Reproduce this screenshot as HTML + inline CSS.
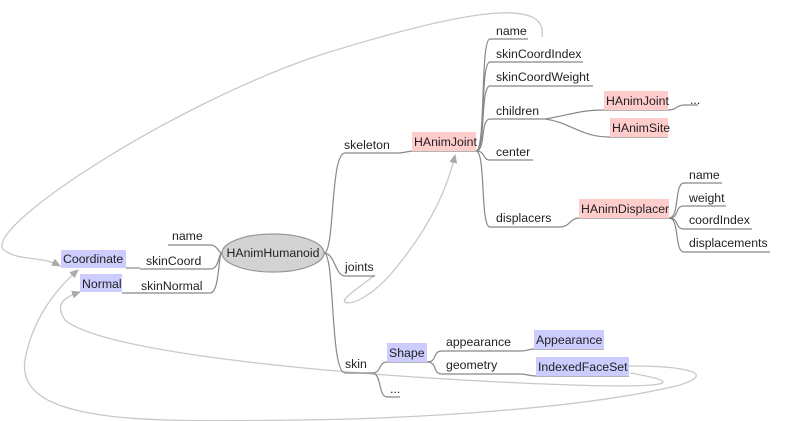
<!DOCTYPE html>
<html><head><meta charset="utf-8"><style>
html,body{margin:0;padding:0;background:#fff;}
svg{display:block;}
text{font-family:"Liberation Sans",sans-serif;font-size:12.3px;fill:#222;}
</style></head><body>
<svg width="790" height="421" viewBox="0 0 790 421" xmlns="http://www.w3.org/2000/svg">
<defs><marker id="a" markerWidth="10" markerHeight="10" refX="8" refY="4" orient="auto" markerUnits="userSpaceOnUse"><path d="M0,0 L9,4 L0,8 z" fill="#aaa"/></marker></defs>
<g fill="none" stroke="#c8c8c8" stroke-width="1.3">
<path d="M542,37 C548,0 480,5 320,55 C170,105 -20,230 4,250 C20,262 40,255 60,266" marker-end="url(#a)"/>
<path d="M375,275 C362,285 340,300 345,302 C352,306 372,295 390,275 C420,240 445,200 455,155" marker-end="url(#a)"/>
<path d="M630,373 C700,385 660,390 500,382 C300,372 100,350 65,320 C55,305 62,298 80,292" marker-end="url(#a)"/>
<path d="M629,366 C680,366 720,372 680,385 C600,405 450,418 300,420 C150,422 15,425 25,360 C32,320 55,290 78,270" marker-end="url(#a)"/>
</g>
<g fill="none" stroke="#888" stroke-width="1.2">
<path d="M168,245 L210,245 C218,245 218,253 222,253"/>
<path d="M140,269 L210,269 C220,269 218,253 222,253"/>
<path d="M126,268 L140,268"/>
<path d="M122,293 L210,293 C220,293 218,253 222,253"/>
<path d="M324,253 C335,253 330,153 345,153 L400,153 L412,151"/>
<path d="M324,253 C335,253 335,276 345,276 L375,276"/>
<path d="M324,253 C335,253 330,373 345,373 L372,373 C382,373 378,362 387,362 L427,362"/>
<path d="M372,373 C382,373 378,397 387,397 L400,397"/>
<path d="M427,362 C438,362 432,351 442,351 L520,351 C528,351 528,349 534,349 L604,349"/>
<path d="M427,362 C438,362 432,374 442,374 L520,374 C528,374 528,376 536,376 L629,376"/>
<path d="M412,151 L476,151"/>
<path d="M476,151 C486,151 480,39 490,39 L528,39"/>
<path d="M476,151 C486,151 480,62 490,62 L583,62"/>
<path d="M476,151 C486,151 480,86 490,86 L593,86"/>
<path d="M476,151 C486,151 480,119 490,119 L545,119"/>
<path d="M476,151 C486,151 482,160 490,160 L533,160"/>
<path d="M476,151 C486,151 480,227 490,227 L560,227 C570,227 570,218 579,218 L669,218"/>
<path d="M545,119 C570,115 580,110 604,110 L668,110 C678,110 675,105 685,105 L698,105"/>
<path d="M545,119 C570,122 580,137 610,137 L668,137"/>
<path d="M669,218 C680,218 674,183 684,183 L722,183"/>
<path d="M669,218 C680,218 674,206 684,206 L726,206"/>
<path d="M669,218 C680,218 674,229 684,229 L752,229"/>
<path d="M669,218 C680,218 674,252 684,252 L770,252"/>
</g>
<ellipse cx="273" cy="253" rx="51" ry="19" fill="#d3d3d3" stroke="#999" stroke-width="1.2"/>
<text x="273" y="257" text-anchor="middle">HAnimHumanoid</text>
<g fill="#ccccff">
<rect x="61" y="250" width="65" height="18"/>
<rect x="80" y="274" width="42" height="18"/>
<rect x="387" y="343" width="40" height="19"/>
<rect x="534" y="330" width="70" height="19"/>
<rect x="536" y="357" width="93" height="19"/>
</g>
<g fill="#ffcccc">
<rect x="412" y="132" width="64" height="19"/>
<rect x="604" y="91" width="64" height="19"/>
<rect x="610" y="118" width="58" height="19"/>
<rect x="579" y="199" width="90" height="19"/>
</g>
<text x="172" y="240">name</text>
<text x="146" y="265">skinCoord</text>
<text x="141" y="290">skinNormal</text>
<text x="63" y="263">Coordinate</text>
<text x="82" y="288">Normal</text>
<text x="344" y="149">skeleton</text>
<text x="414" y="146">HAnimJoint</text>
<text x="345" y="271">joints</text>
<text x="345" y="368">skin</text>
<text x="389" y="357">Shape</text>
<text x="446" y="346">appearance</text>
<text x="536" y="344">Appearance</text>
<text x="446" y="369">geometry</text>
<text x="538" y="371">IndexedFaceSet</text>
<text x="390" y="393" font-size="9">...</text>
<text x="496" y="35">name</text>
<text x="496" y="58">skinCoordIndex</text>
<text x="496" y="81">skinCoordWeight</text>
<text x="496" y="115">children</text>
<text x="606" y="105">HAnimJoint</text>
<text x="690" y="104" font-size="9">...</text>
<text x="612" y="132">HAnimSite</text>
<text x="496" y="156">center</text>
<text x="496" y="222">displacers</text>
<text x="581" y="213">HAnimDisplacer</text>
<text x="689" y="179">name</text>
<text x="689" y="202">weight</text>
<text x="689" y="224">coordIndex</text>
<text x="689" y="247">displacements</text>
</svg>
</body></html>
